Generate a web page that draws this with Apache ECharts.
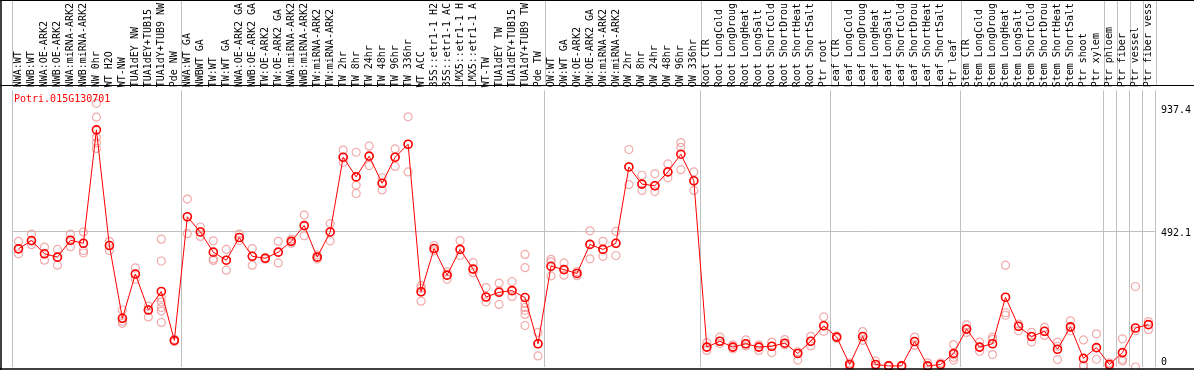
<!DOCTYPE html>
<html><head><meta charset="utf-8">
<script src="https://cdn.jsdelivr.net/npm/echarts@6/dist/echarts.min.js"></script>
<style>html,body{margin:0;padding:0;background:#fff}#c{width:1194px;height:370px}</style>
</head><body><div id="c"></div>
<script>
const chartTitle = "Potri.015G130701";
const categories = [
"NWA:WT","NWB:WT","NWA:OE-ARK2","NWB:OE-ARK2","NWA:miRNA-ARK2","NWB:miRNA-ARK2","NW 0hr","WT H2O","WT-NW","TUA1dEY NW","TUA1dEY+TUB15","TUA1dY+TUB9 NW","Pde NW",
"NWA:WT GA","NWBWT GA","TW:WT","TW:WT GA","NWA:OE-ARK2 GA","NWB:OE-ARK2 GA","TW:OE-ARK2","TW:OE-ARK2 GA","NWA:miRNA-ARK2","NWB:miRNA-ARK2","TW:miRNA-ARK2","TW:miRNA-ARK2","TW 2hr","TW 8hr","TW 24hr","TW 48hr","TW 96hr","TW 336hr","WT ACC","35S::etr1-1 H2","35S::etr1-1 AC","LMX5::etr1-1 H","LMX5::etr1-1 A","WT-TW","TUA1dEY TW","TUA1dEY+TUB15","TUA1dY+TUB9 TW","Pde TW",
"OW:WT","OW:WT GA","OW:OE-ARK2","OW:OE-ARK2 GA","OW:miRNA-ARK2","OW:miRNA-ARK2","OW 2hr","OW 8hr","OW 24hr","OW 48hr","OW 96hr","OW 336hr",
"Root CTR","Root LongCold","Root LongDroug","Root LongHeat","Root LongSalt","Root ShortCold","Root ShortDrou","Root ShortHeat","Root ShortSalt","Ptr root",
"Leaf CTR","Leaf LongCold","Leaf LongDroug","Leaf LongHeat","Leaf LongSalt","Leaf ShortCold","Leaf ShortDrou","Leaf ShortHeat","Leaf ShortSalt","Ptr leaf",
"Stem CTR","Stem LongCold","Stem LongDroug","Stem LongHeat","Stem LongSalt","Stem ShortCold","Stem ShortDrou","Stem ShortHeat","Stem ShortSalt","Ptr shoot",
"Ptr xylem","Ptr phloem","Ptr fiber","Ptr vessel","Ptr fiber vess"
];
const means = [
427, 457, 409, 397, 458, 447, 857, 439, 176, 336, 206, 273, 96,
543, 488, 415, 386, 468, 400, 393, 415, 454, 511, 397, 488, 758, 687, 762, 664, 758, 805, 272, 428, 332, 425, 354, 253, 270, 276, 251, 84,
364, 352, 338, 443, 425, 447, 723, 661, 655, 705, 769, 673,
72, 93, 72, 84, 72, 75, 86, 49, 93, 149,
108, 9, 110, 9, 4, 4, 92, 4, 9, 49,
137, 72, 84, 252, 147, 110, 129, 64, 145, 31,
70, 9, 52, 141, 153
];
const replicates = [
[454,427,409],[480,456,442],[433,409,386],[425,397,368],[480,457,435],[488,447,421,412],[953,903,830,810,790],[454,439,421],[206,176,165,158],[358,336,317],[220,206,181],[462,383,250,235,215,202,161],[100,96,92],
[607,543,482],[506,488,472],[456,391,385],[425,386,350],[480,468,458],[428,400,368],[395,393,390],[454,415,376],[462,454,447],[549,511,474],[405,397,390],[518,488,456],[784,758,740],[776,687,657,627],[799,762,728],[684,664,640],[788,758,725],[904,805,705],[294,285,272,238],[439,428,420],[344,332,317],[457,425,403],[377,354,341],[287,253,235],[303,275,226],[309,276,255],[407,359,230,215,205,190,150],[125,84,40],
[389,380,329],[376,352,332],[345,338,330],[492,443,391],[454,425,400],[490,447,403],[786,723,659],[693,661,638],[698,655,634],[734,705,684],[811,794,713],[705,673,638],
[88,72,60],[108,93,85],[80,72,65],[98,84,76],[80,72,60],[90,75,52],[99,86,80],[55,49,25],[111,93,76],[181,149,129],
[112,108,104],[15,9,2],[128,110,96],[21,9,2],[6,4,2],[6,4,2],[108,92,78],[15,4,0],[15,9,6],[81,45,35,25],
[152,137,125],[90,72,57],[108,100,45],[368,196,187],[155,147,131],[125,110,90],[143,129,114],[90,75,27],[167,145,131],[98,7,2],
[120,70,28],[15,9,4],[102,28,22],[291,131,0],[164,153,135]
];
const groupStarts = [0, 13, 41, 53, 63, 73, 84, 85, 86, 87];
const yTickLabels = [0, 492.1, 937.4];
const yGridLines = [492.1];
const yMax = 1000;

const repPoints = [];
replicates.forEach((reps, i) => reps.forEach(v => repPoints.push([i, v])));

const mono = 'DejaVu Sans Mono';
const sepLine = {show: true, interval: (idx) => groupStarts.includes(idx), lineStyle: {color: '#c0c0c0', width: 1}};
const chart = echarts.init(document.getElementById('c'), null, {renderer: 'canvas'});
chart.setOption({
  animation: false,
  title: {text: chartTitle, left: 9, top: 89, textStyle: {color: '#ff0000', fontFamily: mono, fontSize: 10, fontWeight: 'normal'}},
  grid: [
    {left: 12, right: 38, top: 85, bottom: 3},
    {left: 12, right: 38, top: 0, height: 85}
  ],
  xAxis: [
    {type: 'category', data: categories, gridIndex: 0, position: 'top', boundaryGap: true,
     axisLine: {show: false}, axisTick: {show: false},
     axisLabel: {show: true, interval: 0, rotate: 90, margin: 3, fontFamily: mono, fontSize: 10, color: '#000'},
     splitLine: sepLine},
    {type: 'category', data: categories, gridIndex: 1, boundaryGap: true,
     axisLine: {show: false}, axisTick: {show: false}, axisLabel: {show: false},
     splitLine: sepLine}
  ],
  yAxis: [
    {type: 'value', gridIndex: 0, position: 'right', min: 0, max: yMax,
     axisLine: {show: false}, axisTick: {show: false, customValues: yGridLines},
     splitLine: {show: true, lineStyle: {color: '#c0c0c0', width: 1}},
     axisLabel: {customValues: yTickLabels, margin: 6, fontFamily: mono, fontSize: 10, color: '#000',
       formatter: v => v === 0 ? '{lo|0}' : '{hi|' + v + '}',
       rich: {
         lo: {padding: [0, 0, 10, 0], fontFamily: mono, fontSize: 10, color: '#000'},
         hi: {padding: [6, 0, 0, 0], fontFamily: mono, fontSize: 10, color: '#000'}
       }}},
    {type: 'value', gridIndex: 1, show: false, min: 0, max: 1}
  ],
  graphic: [
    {type: 'line', z: 100, shape: {x1: 0, y1: 0.5, x2: 1194, y2: 0.5}, style: {stroke: '#000', lineWidth: 1}},
    {type: 'line', z: 100, shape: {x1: 0, y1: 85.5, x2: 1194, y2: 85.5}, style: {stroke: '#000', lineWidth: 1}},
    {type: 'line', z: 100, shape: {x1: 0, y1: 369, x2: 1194, y2: 369}, style: {stroke: '#000', lineWidth: 1.5}},
    {type: 'line', z: 100, shape: {x1: 1, y1: 0, x2: 1, y2: 370}, style: {stroke: '#000', lineWidth: 1.5}}
  ],
  series: [
    {type: 'scatter', xAxisIndex: 0, yAxisIndex: 0, data: repPoints, symbol: 'circle', symbolSize: 8,
     itemStyle: {color: 'rgba(0,0,0,0)', borderColor: '#ee9696', borderWidth: 1.2}, z: 2, silent: true},
    {type: 'line', xAxisIndex: 0, yAxisIndex: 0, data: means, symbol: 'circle', symbolSize: 8, showSymbol: true, showAllSymbol: true,
     lineStyle: {color: '#ff0000', width: 1},
     itemStyle: {color: 'rgba(0,0,0,0)', borderColor: '#ff0000', borderWidth: 1.6}, z: 3, silent: true}
  ]
});
</script>
</body></html>
